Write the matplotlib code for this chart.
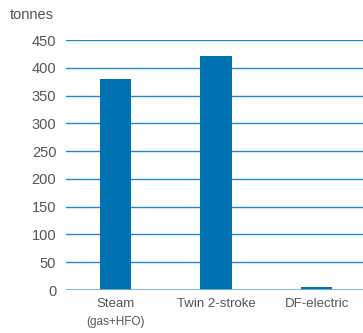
import matplotlib
matplotlib.use("Agg")
import matplotlib.pyplot as plt
import numpy as np

plt.rcParams["font.family"] = ["Liberation Sans", "DejaVu Sans"]

categories = ["Steam", "Twin 2-stroke", "DF-electric"]
sublabels = ["(gas+HFO)", "", ""]
tonnes = [379, 421, 5]
yticks = [0, 50, 100, 150, 200, 250, 300, 350, 400, 450]

BAR = "#0071b1"
GRID = "#1f8ac8"
ZERO = "#72b4dc"
TEXT = "#555555"

fig = plt.figure(figsize=(3.63, 3.33), dpi=100)
ax = fig.add_axes([66 / 363, 1 - 290 / 333, 1 - 66 / 363, 250 / 333])

x = np.arange(len(categories))
ax.bar(x, tonnes, width=0.31, color=BAR, zorder=3)

ax.set_ylim(0, 450)
ax.set_xlim(-0.49, 2.46)
ax.set_yticks(yticks)
ax.set_yticklabels([str(v) for v in yticks], fontsize=10.5, color=TEXT)
ax.set_xticks(x)
ax.set_xticklabels(categories, fontsize=9.5, color=TEXT)
ax.tick_params(axis="both", length=0)
ax.tick_params(axis="y", pad=7)
ax.tick_params(axis="x", pad=6)

for v in yticks[1:]:
    ax.axhline(v, color=GRID, lw=1.0, zorder=1)
ax.axhline(0, color=ZERO, lw=2.0, zorder=4)

for s in ax.spines.values():
    s.set_visible(False)

for xi, sub in zip(x, sublabels):
    if sub:
        ax.text(xi, -0.128, sub, transform=ax.get_xaxis_transform(),
                ha="center", va="center", fontsize=8.5, color=TEXT)

fig.text(10 / 363, 1 - 15 / 333, "tonnes", ha="left", va="center",
         fontsize=10.5, color=TEXT)

fig.savefig("out.png", dpi=100)
